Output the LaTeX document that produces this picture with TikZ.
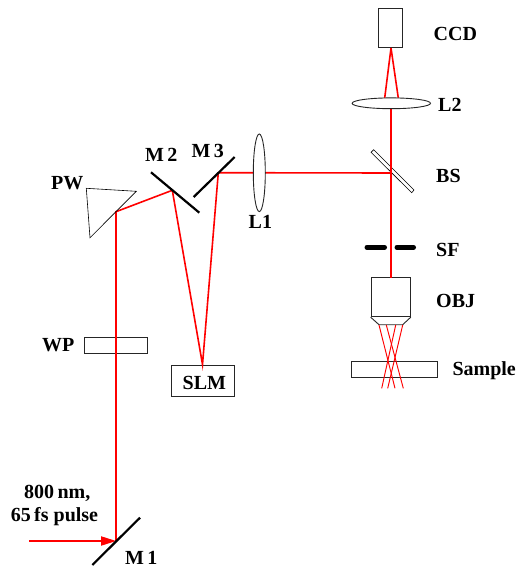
\documentclass[tikz,border=0pt]{standalone}
\usepackage{fontspec}
\setmainfont{Liberation Serif}
\begin{document}
\begin{tikzpicture}[x=1pt,y=-1pt,
  lbl/.style={font=\fontsize{20}{21}\selectfont\bfseries,inner sep=0pt,anchor=base west},
  beam/.style={draw=red,line width=1.6pt},
  thinray/.style={draw=red,line width=0.95pt},
  optic/.style={draw=black!85,line width=0.9pt,fill=white},
  mirror/.style={draw=black,line width=2.2pt},
  slit/.style={draw=black,line width=5pt,line cap=round}]
\useasboundingbox (0,0) rectangle (518,567);
% named points
\coordinate (m1) at (116,541);
\coordinate (src) at (29,541);
\coordinate (pw) at (116,211.7);
\coordinate (m2) at (172.3,190.3);
\coordinate (m3) at (218.3,172.7);
\coordinate (bs) at (391,173);
\coordinate (objtop) at (391,277.7);
\coordinate (l2bot) at (391,108.7);
\coordinate (ccdbot) at (391,48);
% optics with white fill
\node[optic,inner sep=0,minimum width=23.6pt,minimum height=39.4pt] (ccd) at (390.5,28) {};
\node[optic,inner sep=0,minimum width=63pt,minimum height=16pt] (wp) at (116.2,345.3) {};
\node[optic,inner sep=0,minimum width=63pt,minimum height=31.7pt] (slm) at (202.5,380.8) {};
\node[optic,inner sep=0,minimum width=86.4pt,minimum height=15.7pt] (sample) at (394.5,369.2) {};
\node[optic,inner sep=0,minimum width=39.3pt,minimum height=39pt] (obj) at (390.7,297.2) {};
\draw[optic] (obj.south west) -- (379,324.7) -- (402.7,324.7) -- (obj.south east);
\draw[optic,draw=black,line width=0.6pt] (371,152.3) -- (373.7,149.7) -- (414,190) -- (411.7,192.7) -- cycle;
% beams
\draw[beam] (m1) -- (pw) -- (m2) -- (slm.north) -- (m3) -- (bs);
\draw[beam] (l2bot) -- (objtop);
\draw[beam] (ccdbot) -- (384.7,98);
\draw[beam] (ccdbot) -- (398.3,98);
\draw[draw=red,line width=1.1pt] (src) -- (105,541);
\fill[red] (m1) -- (101,536.2) -- (101,545.8) -- cycle;
\draw[thinray] (379,325) -- (395,388.3);
\draw[thinray] (386.3,325) -- (403.3,388.3);
\draw[thinray] (395.7,325) -- (381.7,388.3);
\draw[thinray] (402.7,325) -- (387.7,388.3);
% lenses
\draw[optic] (391.3,103.3) ellipse [x radius=39.2,y radius=5.4];
\draw[optic] (259.3,172.8) ellipse [x radius=6,y radius=38.8];
% prism
\draw[draw=black,line width=0.6pt] (86.3,188.3) -- (136.3,191.3) -- (90,237.7) -- cycle;
% mirrors
\draw[mirror] (92.3,565) -- (140,517.7);
\draw[mirror] (151,172.3) -- (199.3,212.7);
\draw[mirror] (193.7,197) -- (234.7,157);
\draw[slit] (367,247.3) -- (384.5,247.3);
\draw[slit] (397,247.3) -- (413.5,247.3);
% labels
\node[lbl] (t1) at (433.5,41) {CCD};
\node[lbl] (t2) at (438,111) {L2};
\node[lbl] (t3) at (436,182) {BS};
\node[lbl] (t4) at (436,256) {SF};
\node[lbl] (t5) at (436,307) {OBJ};
\node[lbl] (t6) at (452.3,375) {Sample};
\node[lbl] (t7) at (248.5,228) {L1};
\node[lbl] (t8) at (145,161) {M\,2};
\node[lbl] (t9) at (191.5,157.7) {M\,3};
\node[lbl] (t10) at (51,189) {PW};
\node[lbl] (t11) at (42,351.5) {WP};
\node[lbl] (t12) at (182.5,389) {SLM};
\node[lbl] (t13) at (125,564) {M\,1};
\node[lbl] (t14) at (24,498.3) {800\,nm,};
\node[lbl] (t15) at (10.7,521.7) {65\,fs pulse};
\end{tikzpicture}
\end{document}
